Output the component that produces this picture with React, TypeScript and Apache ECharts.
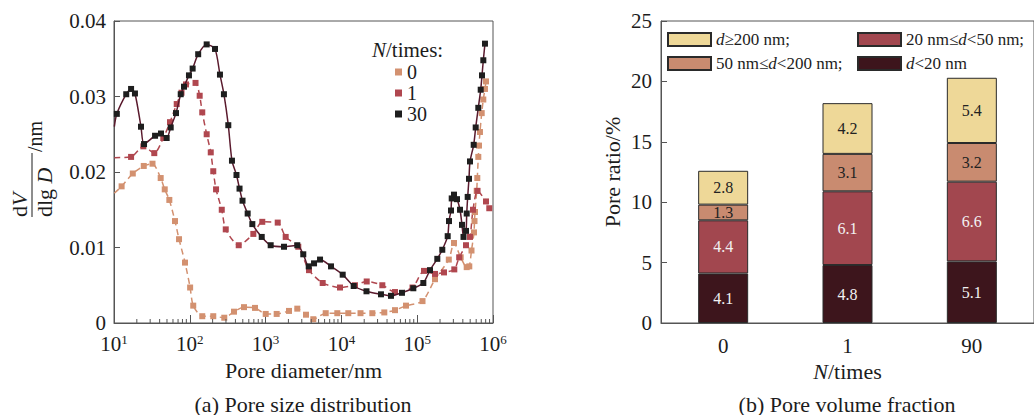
import React, { useEffect, useRef } from 'react';
import * as echarts from 'echarts';

const FONT = '"Liberation Serif", "Times New Roman", "DejaVu Serif", serif';
const TEXT = '#1c1c1c';
const AXIS = '#555';

// (a) Pore size distribution: [pore diameter (nm), dV/dlgD]
const psdN0: number[][] = [
  [10.1, 0.0172], [12.6, 0.0181], [17.7, 0.0198], [24.7, 0.0208], [32.2, 0.0211],
  [41.3, 0.0192], [46.7, 0.0177], [53.7, 0.0163], [63.8, 0.0135], [72.1, 0.0111],
  [86.5, 0.008], [101, 0.0047], [111, 0.0023], [146, 0.0009], [204, 0.0009],
  [285, 0.0007], [383, 0.0015], [519, 0.0021], [725, 0.002], [1003, 0.0012],
  [1400, 0.0012], [2037, 0.0016], [2620, 0.0019], [3412, 0.0011], [4258, 0.0005],
  [6209, 0.0013], [8830, 0.0013], [12330, 0.0013], [17870, 0.0013], [25580, 0.0013],
  [36810, 0.0014], [50930, 0.0017], [71120, 0.0023], [117500, 0.0029], [171800, 0.0058],
  [261200, 0.0084], [305700, 0.0106], [374900, 0.0087], [449800, 0.0074], [486600, 0.0075],
  [520300, 0.0096], [561500, 0.012], [570000, 0.0135], [579200, 0.0147], [609500, 0.0175],
  [620800, 0.0192], [640000, 0.022], [653100, 0.0235], [673000, 0.0253], [709600, 0.0278],
  [744700, 0.0296], [783600, 0.031], [809100, 0.032],
];
const psdN1: number[][] = [
  [10.1, 0.0219], [16.8, 0.022], [24.4, 0.0234], [34.0, 0.0225], [44.7, 0.0245],
  [54.8, 0.0266], [67.2, 0.029], [77.7, 0.0305], [89.1, 0.0316], [119, 0.0318],
  [135, 0.0301], [146, 0.0279], [167, 0.025], [189, 0.0226], [204, 0.0201],
  [222, 0.0177], [264, 0.015], [298, 0.0124], [442, 0.0103], [689, 0.0118],
  [904, 0.0134], [1445, 0.0133], [1841, 0.0114], [2700, 0.0101], [3738, 0.007],
  [5665, 0.0053], [9590, 0.0047], [15110, 0.005], [21570, 0.0055], [34670, 0.005],
  [50930, 0.0041], [86700, 0.0047], [123000, 0.0069], [171800, 0.0065], [225800, 0.0067],
  [308600, 0.0071], [358100, 0.0087], [440500, 0.0103], [497500, 0.0114], [544500, 0.015],
  [625200, 0.0175], [809100, 0.0161], [893300, 0.0152],
];
const psdN30: number[][] = [
  [10.1, 0.026], [10.9, 0.0277], [14.5, 0.0303], [16.8, 0.031], [18.9, 0.0304],
  [22.7, 0.026], [24.9, 0.0237], [34.8, 0.0248], [41.7, 0.0251], [49.5, 0.0245],
  [56.0, 0.0259], [65.8, 0.0278], [75.9, 0.0303], [83.8, 0.0313], [97.5, 0.0328],
  [109, 0.0337], [129, 0.0356], [167, 0.0369], [215, 0.0363], [250, 0.0329],
  [282, 0.0303], [322, 0.0262], [360, 0.0215], [413, 0.0196], [453, 0.0178],
  [496, 0.0162], [580, 0.0145], [668, 0.0131], [889, 0.0114], [1167, 0.0103],
  [1750, 0.0101], [2618, 0.0103], [3141, 0.0091], [3707, 0.0075], [4355, 0.0079],
  [5226, 0.0084], [7298, 0.0075], [10400, 0.0064], [14520, 0.0049], [21430, 0.0042],
  [33270, 0.0038], [45080, 0.0036], [62960, 0.004], [88890, 0.0046], [120500, 0.0053],
  [147600, 0.007], [184200, 0.0085], [214300, 0.0097], [252500, 0.0115], [262800, 0.0135],
  [279300, 0.0149], [285300, 0.0165], [306000, 0.017], [335200, 0.0164], [367300, 0.015],
  [390000, 0.013], [408300, 0.0114], [440500, 0.0122], [450000, 0.0145], [463500, 0.0167],
  [482000, 0.0191], [497500, 0.0214], [556300, 0.0236], [591200, 0.0259], [639900, 0.0285],
  [688400, 0.0309], [716400, 0.0328], [745200, 0.0348], [783600, 0.037],
];
const psdNames = ['0', '1', '30'];
const psdYTicks = [0, 0.01, 0.02, 0.03, 0.04];

// (b) Pore volume fraction (%)
const cycleCategories = ['0', '1', '90'];
const classNames = ['d<20 nm', '20 nm≤d<50 nm;', '50 nm≤d<200 nm;', 'd≥200 nm;'];
const fracLt20 = [4.1, 4.8, 5.1];
const frac20to50 = [4.4, 6.1, 6.6];
const frac50to200 = [1.3, 3.1, 3.2];
const fracGe200 = [2.8, 4.2, 5.4];

const PSD_COLORS = ['#d39170', '#b0474f', '#1e1e1e'];
const PSD_LINE = ['#d39170', '#b0474f', '#5a1a2d'];
const BAR_COLORS = ['#3d151c', '#a2474f', '#c98b70', '#eed898'];
const BAR_LABEL = ['#f2f2f2', '#f2f2f2', '#222', '#222'];

// log-axis minor ticks (2..9 within each decade)
const minorTicks: number[][] = [];
for (let k = 1; k <= 5; k++) for (let m = 2; m <= 9; m++) minorTicks.push([m * Math.pow(10, k), 0]);

export default function App() {
  const ref = useRef<HTMLDivElement>(null);
  useEffect(() => {
    if (!ref.current) return;
    const chart = echarts.init(ref.current, undefined, { renderer: 'svg' });
    const psdSeries = [psdN0, psdN1, psdN30].map((d, i) => ({
      name: psdNames[i],
      type: 'line',
      xAxisIndex: 0,
      yAxisIndex: 0,
      smooth: 0.25,
      symbol: 'rect',
      symbolSize: 6,
      color: PSD_COLORS[i],
      itemStyle: { color: PSD_COLORS[i] },
      lineStyle: { color: PSD_LINE[i], width: 1.5, type: i === 2 ? 'solid' : [6, 4] },
      z: i === 2 ? 4 : 3,
      data: d.map((p, j) => (j === 0 ? { value: p, symbol: 'none' } : p)),
    }));
    const fracs = [fracLt20, frac20to50, frac50to200, fracGe200];
    const barSeries = fracs.map((vals, i) => ({
      name: classNames[i],
      type: 'bar',
      stack: 'pv',
      xAxisIndex: 1,
      yAxisIndex: 1,
      barWidth: 50,
      itemStyle: { color: BAR_COLORS[i], borderColor: '#2a2a2a', borderWidth: 1 },
      label: {
        show: true, position: 'inside', fontFamily: FONT, fontSize: 16,
        color: BAR_LABEL[i], formatter: '{c}',
      },
      data: vals,
    }));
    const axisCommon = {
      axisLine: { show: true, lineStyle: { color: AXIS, width: 1 } },
      axisLabel: { fontFamily: FONT, fontSize: 21, color: TEXT },
      splitLine: { show: false },
    };
    const legendFmt = (name: string) => name.replace(/d(?=[<≥])/g, '{i|d}');
    const legendText = {
      fontFamily: FONT, fontSize: 17, color: TEXT,
      rich: { i: { fontFamily: FONT, fontSize: 17, fontStyle: 'italic', color: TEXT } },
    };
    chart.setOption({
      animation: false,
      textStyle: { fontFamily: FONT },
      grid: [
        { left: 114, top: 21, width: 379, height: 302, show: true, borderColor: AXIS, borderWidth: 1, backgroundColor: 'transparent' },
        { left: 661, top: 21, width: 380, height: 302, show: true, borderColor: AXIS, borderWidth: 1, backgroundColor: 'transparent' },
      ],
      xAxis: [
        {
          ...axisCommon,
          gridIndex: 0,
          type: 'log',
          logBase: 10,
          min: 10,
          max: 1000000,
          axisTick: { show: true, inside: true, length: 8, lineStyle: { color: AXIS } },
          axisLabel: {
            ...axisCommon.axisLabel,
            margin: 10,
            formatter: (v: number) => '{b|10}{s|' + Math.round(Math.log10(v)) + '}',
            rich: {
              b: { fontFamily: FONT, fontSize: 21, color: TEXT },
              s: { fontFamily: FONT, fontSize: 13, color: TEXT, verticalAlign: 'top', padding: [0, 0, 8, 0] },
            },
          },
          name: 'Pore diameter/nm',
          nameLocation: 'middle',
          nameGap: 36,
          nameTextStyle: { fontFamily: FONT, fontSize: 22, color: TEXT },
        },
        {
          ...axisCommon,
          gridIndex: 1,
          type: 'category',
          data: cycleCategories,
          axisTick: { show: false },
          axisLabel: { ...axisCommon.axisLabel, margin: 12 },
          name: '{i|N}/times',
          nameLocation: 'middle',
          nameGap: 36,
          nameTextStyle: {
            fontFamily: FONT, fontSize: 22, color: TEXT,
            rich: { i: { fontFamily: FONT, fontSize: 22, fontStyle: 'italic', color: TEXT } },
          },
        },
      ],
      yAxis: [
        {
          ...axisCommon,
          gridIndex: 0,
          type: 'value',
          min: psdYTicks[0],
          max: psdYTicks[psdYTicks.length - 1],
          interval: 0.01,
          axisTick: { show: true, inside: true, length: 6, lineStyle: { color: AXIS } },
          axisLabel: { ...axisCommon.axisLabel, margin: 8, formatter: (v: number) => (v === 0 ? '0' : v.toFixed(2)) },
        },
        {
          ...axisCommon,
          gridIndex: 1,
          type: 'value',
          min: 0,
          max: 25,
          interval: 5,
          axisTick: { show: true, inside: true, length: 6, lineStyle: { color: AXIS } },
          axisLabel: { ...axisCommon.axisLabel, margin: 9 },
          name: 'Pore ratio/%',
          nameLocation: 'middle',
          nameGap: 38,
          nameTextStyle: { fontFamily: FONT, fontSize: 22, color: TEXT },
        },
      ],
      legend: [
        {
          data: psdNames.map((n) => ({ name: n, icon: 'rect' })),
          orient: 'vertical',
          left: 395,
          top: 62,
          padding: 0,
          itemWidth: 7,
          itemHeight: 7,
          itemGap: 1,
          selectedMode: false,
          textStyle: { fontFamily: FONT, fontSize: 20, color: TEXT, lineHeight: 20 },
        },
        {
          data: [classNames[3], classNames[2]].map((n) => ({ name: n, icon: 'rect' })),
          orient: 'vertical',
          left: 667,
          top: 31,
          padding: 0,
          itemWidth: 43,
          itemHeight: 13,
          itemGap: 7,
          selectedMode: false,
          formatter: legendFmt,
          textStyle: legendText,
        },
        {
          data: [classNames[1], classNames[0]].map((n) => ({ name: n, icon: 'rect' })),
          orient: 'vertical',
          left: 857,
          top: 31,
          padding: 0,
          itemWidth: 43,
          itemHeight: 13,
          itemGap: 7,
          selectedMode: false,
          formatter: legendFmt,
          textStyle: legendText,
        },
      ],
      graphic: [
        {
          type: 'text',
          x: 372,
          y: 50,
          style: {
            text: '{i|N}/times:',
            font: `21px ${FONT}`,
            fill: TEXT,
            verticalAlign: 'middle',
            rich: { i: { fontFamily: FONT, fontSize: 21, fontStyle: 'italic', fill: TEXT } },
          },
        },
        {
          type: 'group',
          x: 32,
          y: 217,
          rotation: Math.PI / 2,
          children: [
            { type: 'line', shape: { x1: 0, y1: 0, x2: 64, y2: 0 }, style: { stroke: TEXT, lineWidth: 1 } },
            {
              type: 'text', x: 0, y: -2,
              style: {
                text: '{n|d}{i|V}', fill: TEXT, verticalAlign: 'bottom', align: 'left',
                rich: {
                  n: { fontFamily: FONT, fontSize: 22, fill: TEXT },
                  i: { fontFamily: FONT, fontSize: 22, fontStyle: 'italic', fill: TEXT },
                },
              },
            },
            {
              type: 'text', x: 0, y: 1,
              style: {
                text: '{n|dlg }{i|D}', fill: TEXT, verticalAlign: 'top', align: 'left',
                rich: {
                  n: { fontFamily: FONT, fontSize: 22, fill: TEXT },
                  i: { fontFamily: FONT, fontSize: 22, fontStyle: 'italic', fill: TEXT },
                },
              },
            },
            {
              type: 'text', x: 65, y: 3,
              style: { text: '/nm', font: `20px ${FONT}`, fill: TEXT, verticalAlign: 'middle', align: 'left' },
            },
          ],
        },
        {
          type: 'text', x: 303, y: 404,
          style: { text: '(a) Pore size distribution', font: `22px ${FONT}`, fill: TEXT, align: 'center', verticalAlign: 'middle' },
        },
        {
          type: 'text', x: 847, y: 404,
          style: { text: '(b) Pore volume fraction', font: `22px ${FONT}`, fill: TEXT, align: 'center', verticalAlign: 'middle' },
        },
      ],
      series: [
        ...psdSeries,
        {
          type: 'custom',
          xAxisIndex: 0,
          yAxisIndex: 0,
          silent: true,
          clip: false,
          z: 5,
          data: minorTicks,
          renderItem: (_p: any, api: any) => {
            const pt = api.coord([api.value(0), 0]);
            return {
              type: 'line',
              shape: { x1: pt[0], y1: pt[1], x2: pt[0], y2: pt[1] - 4 },
              style: { stroke: AXIS, lineWidth: 1 },
            };
          },
        },
        ...barSeries,
      ],
    });
    return () => chart.dispose();
  }, []);
  return <div ref={ref} style={{ position: 'fixed', left: 0, top: 0, width: 1034, height: 415, background: '#fff' }} />;
}
